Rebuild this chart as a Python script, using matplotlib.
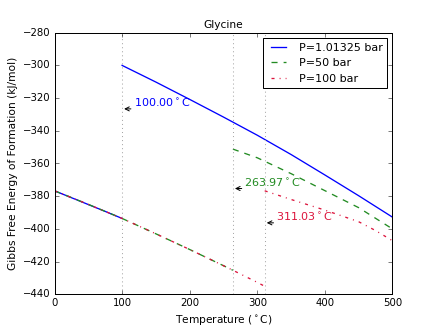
import matplotlib
matplotlib.use('Agg')
import matplotlib.pyplot as plt

# pressures and transition temperatures
labels = ['P=1.01325 bar', 'P=50 bar', 'P=100 bar']
colors = ['b', 'forestgreen', 'crimson']
styles = ['-', '--', '-.']
T_trans = [100.00, 263.97, 311.03]
arrow_G = [-326.6, -375.3, -396.3]

# low temperature branch
T_low = [[0, 25, 50, 75, 100],
         [0, 50, 100, 150, 200, 250, 263.97],
         [0, 50, 100, 150, 200, 250, 263.97, 300, 311.03]]
G_low = [[-376.7, -380.9, -385.1, -389.3, -393.6],
         [-376.7, -385.0, -393.6, -403.0, -412.6, -422.5, -425.3],
         [-376.7, -385.0, -393.6, -403.0, -412.6, -422.5, -425.3, -432.7, -435.1]]

# high temperature branch
T_high = [[100, 150, 200, 250, 300, 350, 400, 450, 500],
          [263.97, 300, 350, 400, 450, 500],
          [311.03, 350, 400, 450, 475, 500]]
G_high = [[-300.0, -310.2, -320.8, -331.6, -342.7, -354.5, -367.0, -379.7, -392.8],
          [-351.2, -356.5, -366.2, -376.6, -387.0, -400.0],
          [-376.7, -382.0, -388.5, -395.6, -401.0, -407.2]]

plt.style.use('classic')
plt.rcParams['mathtext.fontset'] = 'dejavusans'
plt.rcParams['font.size'] = 10

fig = plt.figure(figsize=(6, 4.5), facecolor='w')
ax = fig.add_subplot(111)

for i in range(3):
    ax.plot(T_high[i], G_high[i], color=colors[i], ls=styles[i], lw=1.3, label=labels[i])
    ax.plot(T_low[i], G_low[i], color=colors[i], ls=styles[i], lw=1.3)

for i in range(3):
    t = T_trans[i]
    ax.axvline(t, color='0.65', ls=':', lw=1)
    ax.annotate('', xy=(t, arrow_G[i]), xytext=(t + 16, arrow_G[i]),
                arrowprops=dict(arrowstyle='->', color='k', lw=1))
    ax.text(t + 17, arrow_G[i] + 3.7, '%.2f$^\\circ$C' % t, color=colors[i],
            fontsize=11, va='center', ha='left')

ax.set_xlim(0, 500)
ax.set_ylim(-440, -280)
ax.set_title('Glycine', fontsize=10.5)
ax.set_xlabel('Temperature ($^\\circ$C)', fontsize=10.5)
ax.set_ylabel('Gibbs Free Energy of Formation (kJ/mol)', fontsize=10.5)
ax.legend(loc='upper right', fontsize=11)

fig.savefig('out.png', dpi=72.67, facecolor='w')
